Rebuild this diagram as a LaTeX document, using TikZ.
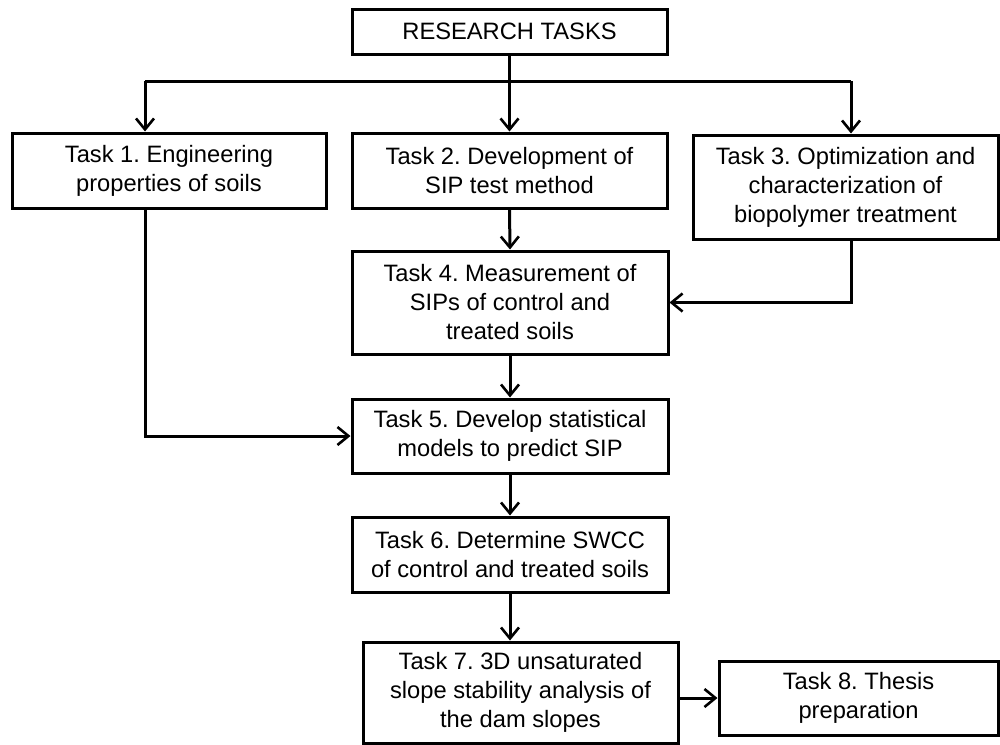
\documentclass[tikz,border=0pt]{standalone}
\usepackage{fontspec}
\setmainfont{Liberation Sans}
\usetikzlibrary{arrows.meta}
\frenchspacing
\begin{document}
\frenchspacing
\begin{tikzpicture}[x=1pt,y=-1pt,
  box/.style={draw, line width=3pt, rectangle, inner sep=0pt, align=center,
    font=\fontsize{23.7}{29}\selectfont\frenchspacing},
  conn/.style={line width=3pt},
  arr/.style={line width=3pt, -{Straight Barb[length=11pt,width=18pt,line width=2.6pt]}}]
\useasboundingbox (0,0) rectangle (1000,744);
\node[box, minimum width=315pt, minimum height=45pt] (rt) at (509.5,31.5) {RESEARCH TASKS};
\node[box, minimum width=314pt, minimum height=75pt] (t1) at (169,170.5) {Task 1. Engineering\\properties of soils};
\node[box, minimum width=315pt, minimum height=75pt] (t2) at (509.5,170.5) {Task 2. Development of\\SIP test method};
\node[box, minimum width=305pt, minimum height=104pt] (t3) at (845.5,187) {Task 3. Optimization and\\characterization of\\biopolymer treatment};
\node[box, minimum width=316pt, minimum height=103pt] (t4) at (510,302.5) {Task 4. Measurement of\\SIPs of control and\\treated soils};
\node[box, minimum width=316pt, minimum height=74pt] (t5) at (510,436) {Task 5. Develop statistical\\models to predict SIP};
\node[box, minimum width=316pt, minimum height=75pt] (t6) at (510,554.5) {Task 6. Determine SWCC\\of control and treated soils};
\node[box, minimum width=315pt, minimum height=101pt] (t7) at (520.5,692.5) {Task 7. 3D unsaturated\\slope stability analysis of\\the dam slopes};
\node[box, minimum width=279pt, minimum height=74pt] (t8) at (858.5,698) {Task 8. Thesis\\preparation};
\coordinate (j1) at (145,81);
\coordinate (j3) at (851,81);
\draw[conn] (j1) -- (j3);
\draw[arr] (rt.south) -- (t2.north);
\draw[arr] (j1) -- (j1 |- t1.north);
\draw[arr] (j3) -- (j3 |- t3.north);
\draw[arr] (t2.south) -- (t4.north);
\draw[arr] (j3 |- t3.south) |- (t4.east);
\draw[arr] (j1 |- t1.south) |- (t5.west);
\draw[arr] (t4.south) -- (t5.north);
\draw[arr] (t5.south) -- (t6.north);
\draw[arr] (t6.south) -- (t6.south |- t7.north);
\draw[arr] (t7.east |- t8.west) -- (t8.west);
\end{tikzpicture}
\end{document}
